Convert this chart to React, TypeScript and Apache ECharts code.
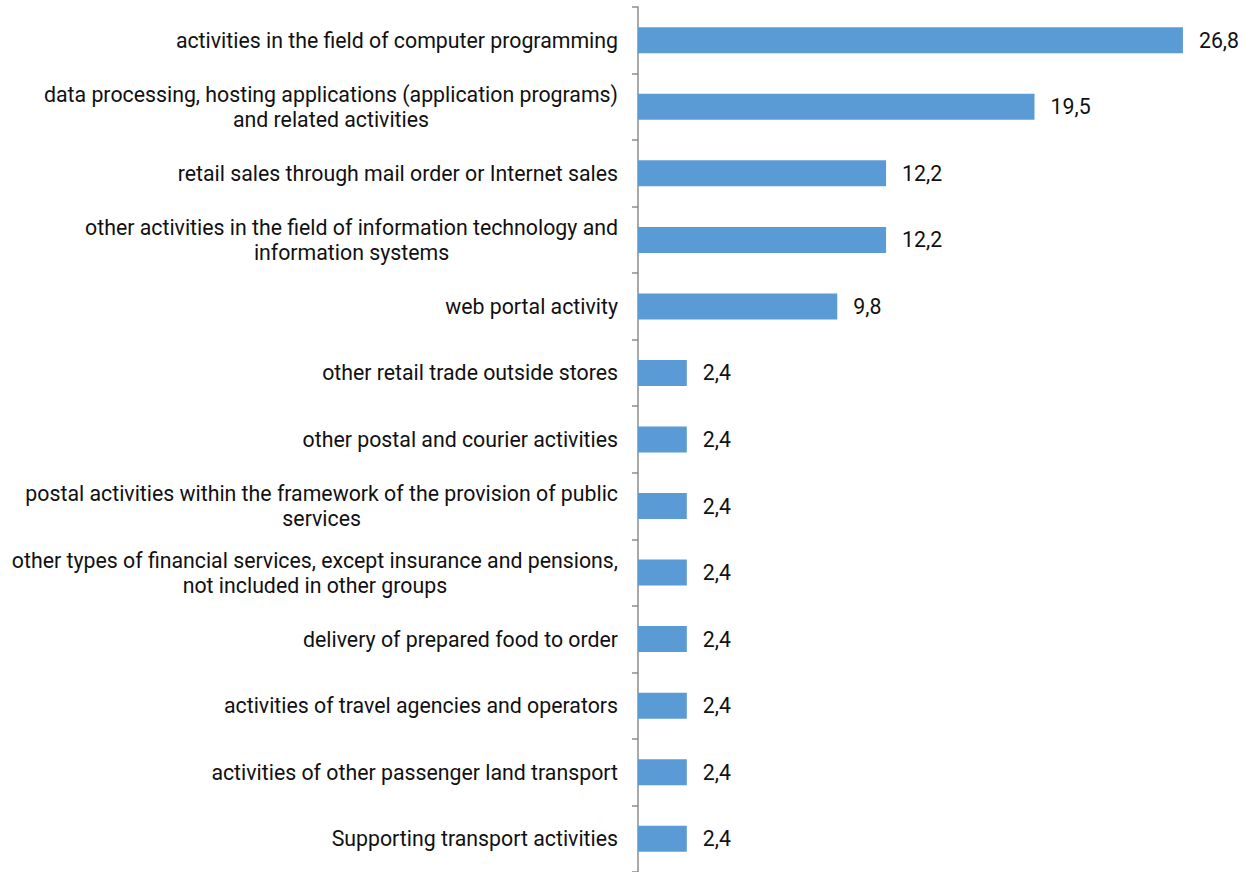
import React, { useEffect, useRef } from "react";
import * as echarts from "echarts";

const categories: string[] = [
  "activities in the field of computer programming",
  "data processing, hosting applications (application programs)\nand related activities",
  "retail sales through mail order or Internet sales",
  "other activities in the field of information technology and\ninformation systems",
  "web portal activity",
  "other retail trade outside stores",
  "other postal and courier activities",
  "postal activities within the framework of the provision of public\nservices",
  "other types of financial services, except insurance and pensions,\nnot included in other groups",
  "delivery of prepared food to order",
  "activities of travel agencies and operators",
  "activities of other passenger land transport",
  "Supporting transport activities",
];

const values: number[] = [26.8, 19.5, 12.2, 12.2, 9.8, 2.4, 2.4, 2.4, 2.4, 2.4, 2.4, 2.4, 2.4];

const FS = 21.3;

export default function App() {
  const ref = useRef<HTMLDivElement>(null);
  useEffect(() => {
    if (!ref.current) return;
    const chart = echarts.init(ref.current, undefined, { renderer: "svg" });
    chart.setOption({
      animation: false,
      textStyle: { fontFamily: "Roboto" },
      grid: { left: 638, right: 6, top: 7, bottom: -3, containLabel: false },
      xAxis: {
        type: "value",
        min: 0,
        max: 30,
        show: false,
      },
      yAxis: {
        type: "category",
        inverse: true,
        data: categories,
        axisLine: { show: true, lineStyle: { color: "#8c8c8c", width: 1.5 } },
        axisTick: { show: true, length: 6, lineStyle: { color: "#8c8c8c", width: 1.5 } },
        axisLabel: {
          margin: 20,
          color: "#111",
          fontSize: FS,
          fontFamily: "Roboto",
          lineHeight: 25,
          formatter: (v: string) =>
            v
              .split("\n")
              .map((l) => `{c|${l}}`)
              .join("\n"),
          rich: {
            c: {
              align: "center",
              fontSize: FS,
              fontFamily: "Roboto",
              color: "#111",
              lineHeight: 25,
            },
          },
        },
        splitLine: { show: false },
      },
      series: [
        {
          type: "bar",
          data: values,
          barWidth: 26,
          itemStyle: { color: "#5B9BD5" },
          label: {
            show: true,
            position: "right",
            distance: 16,
            fontSize: FS,
            fontFamily: "Roboto",
            color: "#111",
            formatter: (p: any) => p.value.toFixed(1).replace(".", ","),
          },
        },
      ],
    });
    return () => chart.dispose();
  }, []);
  return (
    <div
      ref={ref}
      style={{ position: "fixed", left: 0, top: 0, width: 1254, height: 872, background: "#fff" }}
    />
  );
}
